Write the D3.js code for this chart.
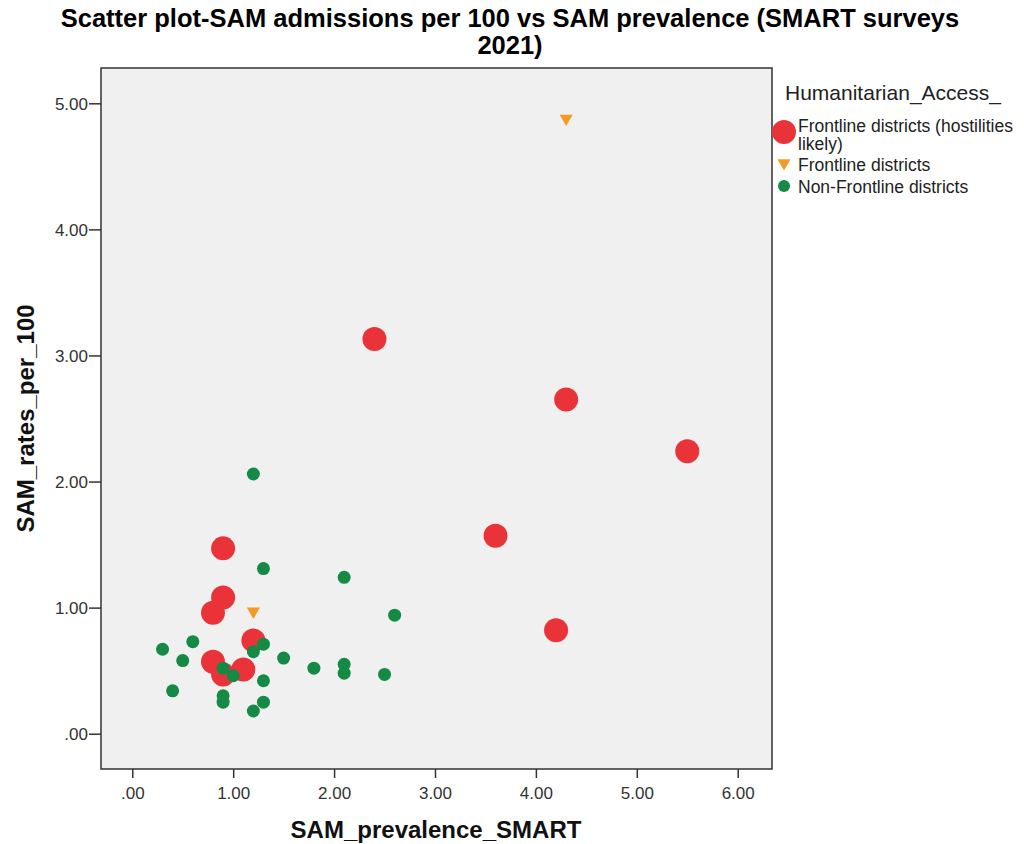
<!DOCTYPE html>
<html lang="en">
<head>
<meta charset="UTF-8">
<script src="https://d3js.org/d3.v7.min.js"></script>
<style>
  body { margin: 0; background: #fff; }
  text { font-family: "Liberation Sans", Arial, sans-serif; }
</style>
</head>
<body>
<div id="chart"></div>
<script>
// groups, in legend order
var groups = ["Frontline districts (hostilities likely)", "Frontline districts", "Non-Frontline districts"];

// Frontline districts (hostilities likely)
var hostilePrev = [2.4, 4.3, 5.5, 3.6, 4.2, 0.9, 0.9, 0.8, 1.2, 0.8, 0.9, 1.1];
var hostileRate = [3.13, 2.65, 2.24, 1.57, 0.82, 1.47, 1.08, 0.96, 0.74, 0.57, 0.47, 0.51];

// Frontline districts
var frontPrev = [4.3, 1.2];
var frontRate = [4.88, 0.97];

// Non-Frontline districts
var nonPrev = [1.2, 1.3, 2.1, 2.6, 1.3, 1.2, 0.6, 0.3, 0.5, 1.5, 1.8, 2.1, 2.1, 2.5, 0.9, 1.0, 1.3, 0.4, 0.9, 0.9, 1.3, 1.2];
var nonRate = [2.06, 1.31, 1.24, 0.94, 0.71, 0.65, 0.73, 0.67, 0.58, 0.60, 0.52, 0.55, 0.48, 0.47, 0.52, 0.46, 0.42, 0.34, 0.30, 0.25, 0.25, 0.18];

var xTicks = [0, 1, 2, 3, 4, 5, 6];
var yTicks = [0, 1, 2, 3, 4, 5];

var width = 1024, height = 844;
var svg = d3.select("#chart").append("svg")
    .attr("width", width)
    .attr("height", height);

var plot = {left: 101, right: 772, top: 68, bottom: 769};

var x = d3.scaleLinear().domain([-0.31, 6.34]).range([plot.left, plot.right]);
var y = d3.scaleLinear().domain([-0.28, 5.28]).range([plot.bottom, plot.top]);

var fmt = function (d) { return d === 0 ? ".00" : d3.format(".2f")(d); };

// title
svg.append("text").attr("x", 510).attr("y", 27).attr("text-anchor", "middle")
    .style("font-size", "25.5px").style("font-weight", "bold").attr("fill", "#000")
    .text("Scatter plot-SAM admissions per 100 vs SAM prevalence (SMART surveys");
svg.append("text").attr("x", 510).attr("y", 54).attr("text-anchor", "middle")
    .style("font-size", "25.5px").style("font-weight", "bold").attr("fill", "#000")
    .text("2021)");

// plot background + frame
svg.append("rect")
    .attr("x", plot.left).attr("y", plot.top)
    .attr("width", plot.right - plot.left).attr("height", plot.bottom - plot.top)
    .attr("fill", "#f0f0f0")
    .attr("stroke", "#333").attr("stroke-width", 1.5);

// axes
var xAxis = svg.append("g")
    .attr("transform", "translate(0," + plot.bottom + ")")
    .call(d3.axisBottom(x).tickValues(xTicks).tickFormat(fmt).tickSize(9).tickSizeOuter(0));
var yAxis = svg.append("g")
    .attr("transform", "translate(" + plot.left + ",0)")
    .call(d3.axisLeft(y).tickValues(yTicks).tickFormat(fmt).tickSize(12).tickSizeOuter(0));

[xAxis, yAxis].forEach(function (g) {
    g.select(".domain").remove();
    g.selectAll("line").attr("stroke", "#333").attr("stroke-width", 1.5);
    g.selectAll("text").attr("fill", "#333")
        .style("font-family", "'Liberation Sans', Arial, sans-serif")
        .style("font-size", "17px");
});
xAxis.selectAll("text").attr("y", 30).attr("dy", 0);
yAxis.selectAll("text").attr("dy", "0.36em").attr("x", -13);

// axis titles
svg.append("text").attr("x", 436).attr("y", 838).attr("text-anchor", "middle")
    .style("font-size", "24px").style("font-weight", "bold").attr("fill", "#111")
    .text("SAM_prevalence_SMART");
svg.append("text")
    .attr("transform", "translate(34," + y(2.5) + ") rotate(-90)")
    .attr("text-anchor", "middle")
    .style("font-size", "24px").style("font-weight", "bold").attr("fill", "#111")
    .text("SAM_rates_per_100");

var red = "#ea3339", orange = "#f39b25", green = "#148a45";

var hostile = hostilePrev.map(function (d, i) { return {x: d, y: hostileRate[i]}; });
var front = frontPrev.map(function (d, i) { return {x: d, y: frontRate[i]}; });
var non = nonPrev.map(function (d, i) { return {x: d, y: nonRate[i]}; });

var tri = d3.symbol().type(d3.symbolTriangle).size(75);

svg.append("g").selectAll("circle").data(hostile).enter().append("circle")
    .attr("cx", function (d) { return x(d.x); })
    .attr("cy", function (d) { return y(d.y); })
    .attr("r", 12)
    .attr("fill", red);

svg.append("g").selectAll("path").data(front).enter().append("path")
    .attr("d", tri)
    .attr("transform", function (d) { return "translate(" + x(d.x) + "," + y(d.y) + ") rotate(180)"; })
    .attr("fill", orange);

svg.append("g").selectAll("circle").data(non).enter().append("circle")
    .attr("cx", function (d) { return x(d.x); })
    .attr("cy", function (d) { return y(d.y); })
    .attr("r", 6.5)
    .attr("fill", green);

// legend
var lg = svg.append("g");
lg.append("text").attr("x", 785).attr("y", 100)
    .style("font-size", "21px").attr("fill", "#222").text("Humanitarian_Access_");

lg.append("circle").attr("cx", 784).attr("cy", 132).attr("r", 12).attr("fill", red);
lg.append("text").attr("x", 798).attr("y", 132)
    .style("font-size", "17.5px").attr("fill", "#222").text("Frontline districts (hostilities");
lg.append("text").attr("x", 798).attr("y", 150)
    .style("font-size", "17.5px").attr("fill", "#222").text("likely)");

lg.append("path").attr("d", tri)
    .attr("transform", "translate(784,163) rotate(180)").attr("fill", orange);
lg.append("text").attr("x", 798).attr("y", 171)
    .style("font-size", "17.5px").attr("fill", "#222").text(groups[1]);

lg.append("circle").attr("cx", 784).attr("cy", 186).attr("r", 6).attr("fill", green);
lg.append("text").attr("x", 798).attr("y", 193)
    .style("font-size", "17.5px").attr("fill", "#222").text(groups[2]);
</script>
</body>
</html>
